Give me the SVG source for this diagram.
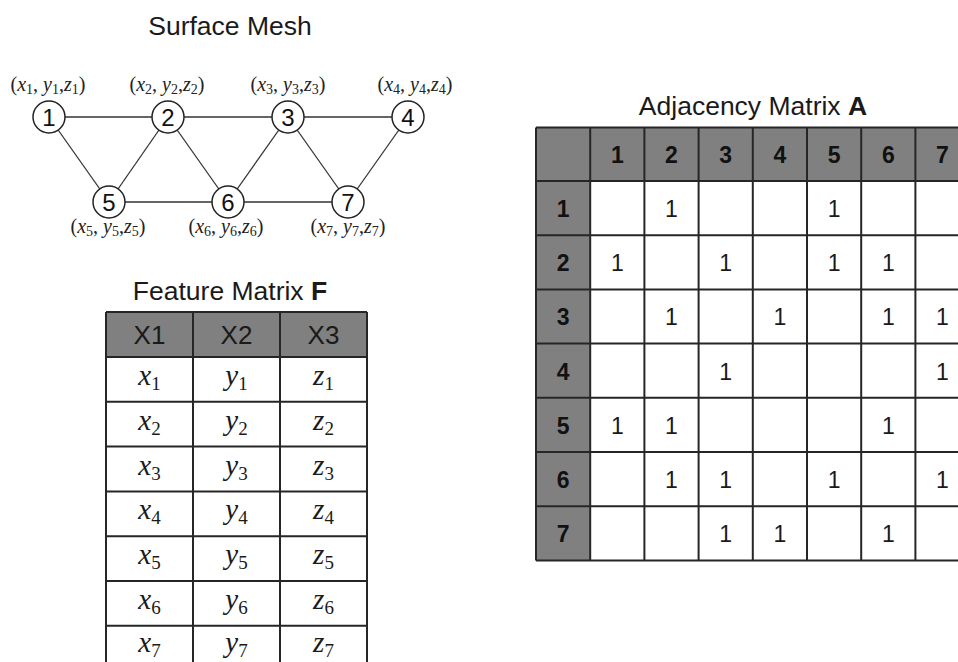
<svg xmlns="http://www.w3.org/2000/svg" width="958" height="662" viewBox="0 0 958 662">
  <style>
    .title { font-family: "Liberation Sans", Arial, sans-serif; font-size: 26.5px; fill: #1a1a1a; }
    .b { font-weight: bold; }
    .node circle { fill: #ffffff; stroke: #222222; stroke-width: 1.5; }
    .node .num { font-family: "Liberation Sans", Arial, sans-serif; font-size: 24px; fill: #111111; text-anchor: middle; }
    .edge { stroke: #333333; stroke-width: 1.3; fill: none; }
    .node .lbl { font-family: "Liberation Serif", "Times New Roman", serif; font-size: 20px; fill: #222222; text-anchor: middle; }
    .v { font-style: italic; }
    .s { font-size: 14px; }
    .hdr { fill: #808080; }
    .grid { stroke: #262626; stroke-width: 2; fill: none; }
    .fh { font-family: "Liberation Sans", Arial, sans-serif; font-size: 26px; fill: #1a1a1a; text-anchor: middle; }
    .fc { font-family: "Liberation Serif", "Times New Roman", serif; font-size: 29px; fill: #1a1a1a; text-anchor: middle; }
    .fs { font-size: 19px; }
    .ah { font-family: "Liberation Sans", Arial, sans-serif; font-size: 23px; font-weight: bold; fill: #111111; text-anchor: middle; }
    .ac { font-family: "Liberation Sans", Arial, sans-serif; font-size: 23px; fill: #1a1a1a; text-anchor: middle; }
  </style>
  <rect width="958" height="662" fill="#ffffff"/>

  <!-- Surface mesh -->
  <text class="title" x="230" y="35" text-anchor="middle">Surface Mesh</text>

  <g id="connectors">
    <line class="edge" x1="49" y1="117" x2="168" y2="117"/>
    <line class="edge" x1="168" y1="117" x2="288" y2="117"/>
    <line class="edge" x1="288" y1="117" x2="408" y2="117"/>
    <line class="edge" x1="109" y1="202" x2="228" y2="202"/>
    <line class="edge" x1="228" y1="202" x2="348" y2="202"/>
    <line class="edge" x1="49" y1="117" x2="109" y2="202"/>
    <line class="edge" x1="109" y1="202" x2="168" y2="117"/>
    <line class="edge" x1="168" y1="117" x2="228" y2="202"/>
    <line class="edge" x1="228" y1="202" x2="288" y2="117"/>
    <line class="edge" x1="288" y1="117" x2="348" y2="202"/>
    <line class="edge" x1="348" y1="202" x2="408" y2="117"/>
  </g>

  <g id="node1" class="node">
    <circle cx="49" cy="117" r="16"/>
    <text class="num" x="49" y="125.5">1</text>
    <text class="lbl" x="48" y="91">(<tspan class="v">x</tspan><tspan class="s" dy="3">1</tspan><tspan dy="-3">, </tspan><tspan class="v">y</tspan><tspan class="s" dy="3">1</tspan><tspan dy="-3">,</tspan><tspan class="v">z</tspan><tspan class="s" dy="3">1</tspan><tspan dy="-3">)</tspan></text>
  </g>
  <g id="node2" class="node">
    <circle cx="168" cy="117" r="16"/>
    <text class="num" x="168" y="125.5">2</text>
    <text class="lbl" x="167" y="91">(<tspan class="v">x</tspan><tspan class="s" dy="3">2</tspan><tspan dy="-3">, </tspan><tspan class="v">y</tspan><tspan class="s" dy="3">2</tspan><tspan dy="-3">,</tspan><tspan class="v">z</tspan><tspan class="s" dy="3">2</tspan><tspan dy="-3">)</tspan></text>
  </g>
  <g id="node3" class="node">
    <circle cx="288" cy="117" r="16"/>
    <text class="num" x="288" y="125.5">3</text>
    <text class="lbl" x="288" y="91">(<tspan class="v">x</tspan><tspan class="s" dy="3">3</tspan><tspan dy="-3">, </tspan><tspan class="v">y</tspan><tspan class="s" dy="3">3</tspan><tspan dy="-3">,</tspan><tspan class="v">z</tspan><tspan class="s" dy="3">3</tspan><tspan dy="-3">)</tspan></text>
  </g>
  <g id="node4" class="node">
    <circle cx="408" cy="117" r="16"/>
    <text class="num" x="408" y="125.5">4</text>
    <text class="lbl" x="415" y="91">(<tspan class="v">x</tspan><tspan class="s" dy="3">4</tspan><tspan dy="-3">, </tspan><tspan class="v">y</tspan><tspan class="s" dy="3">4</tspan><tspan dy="-3">,</tspan><tspan class="v">z</tspan><tspan class="s" dy="3">4</tspan><tspan dy="-3">)</tspan></text>
  </g>
  <g id="node5" class="node">
    <circle cx="109" cy="202" r="16"/>
    <text class="num" x="109" y="210.5">5</text>
    <text class="lbl" x="108" y="233">(<tspan class="v">x</tspan><tspan class="s" dy="3">5</tspan><tspan dy="-3">, </tspan><tspan class="v">y</tspan><tspan class="s" dy="3">5</tspan><tspan dy="-3">,</tspan><tspan class="v">z</tspan><tspan class="s" dy="3">5</tspan><tspan dy="-3">)</tspan></text>
  </g>
  <g id="node6" class="node">
    <circle cx="228" cy="202" r="16"/>
    <text class="num" x="228" y="210.5">6</text>
    <text class="lbl" x="226" y="233">(<tspan class="v">x</tspan><tspan class="s" dy="3">6</tspan><tspan dy="-3">, </tspan><tspan class="v">y</tspan><tspan class="s" dy="3">6</tspan><tspan dy="-3">,</tspan><tspan class="v">z</tspan><tspan class="s" dy="3">6</tspan><tspan dy="-3">)</tspan></text>
  </g>
  <g id="node7" class="node">
    <circle cx="348" cy="202" r="16"/>
    <text class="num" x="348" y="210.5">7</text>
    <text class="lbl" x="348" y="233">(<tspan class="v">x</tspan><tspan class="s" dy="3">7</tspan><tspan dy="-3">, </tspan><tspan class="v">y</tspan><tspan class="s" dy="3">7</tspan><tspan dy="-3">,</tspan><tspan class="v">z</tspan><tspan class="s" dy="3">7</tspan><tspan dy="-3">)</tspan></text>
  </g>

  <!-- Feature matrix F -->
  <g id="feature-matrix">
    <text class="title" x="230" y="300" text-anchor="middle">Feature Matrix <tspan class="b">F</tspan></text>
    <rect class="hdr" x="106" y="312" width="261" height="45"/>
    <path class="grid" d="M106 312 H367 M106 357 H367 M106 401.8 H367 M106 446.6 H367 M106 491.4 H367 M106 536.2 H367 M106 581 H367 M106 625.8 H367 M106 312 V670 M193 312 V670 M280 312 V670 M367 312 V670"/>
    <text class="fh" x="149.5" y="344">X1</text>
    <text class="fh" x="236.5" y="344">X2</text>
    <text class="fh" x="323.5" y="344">X3</text>

    <text class="fc" x="149.5" y="385"><tspan class="v">x</tspan><tspan class="fs" dy="5">1</tspan></text>
    <text class="fc" x="236.5" y="385"><tspan class="v">y</tspan><tspan class="fs" dy="5">1</tspan></text>
    <text class="fc" x="323.5" y="385"><tspan class="v">z</tspan><tspan class="fs" dy="5">1</tspan></text>

    <text class="fc" x="149.5" y="429.8"><tspan class="v">x</tspan><tspan class="fs" dy="5">2</tspan></text>
    <text class="fc" x="236.5" y="429.8"><tspan class="v">y</tspan><tspan class="fs" dy="5">2</tspan></text>
    <text class="fc" x="323.5" y="429.8"><tspan class="v">z</tspan><tspan class="fs" dy="5">2</tspan></text>

    <text class="fc" x="149.5" y="474.6"><tspan class="v">x</tspan><tspan class="fs" dy="5">3</tspan></text>
    <text class="fc" x="236.5" y="474.6"><tspan class="v">y</tspan><tspan class="fs" dy="5">3</tspan></text>
    <text class="fc" x="323.5" y="474.6"><tspan class="v">z</tspan><tspan class="fs" dy="5">3</tspan></text>

    <text class="fc" x="149.5" y="519.4"><tspan class="v">x</tspan><tspan class="fs" dy="5">4</tspan></text>
    <text class="fc" x="236.5" y="519.4"><tspan class="v">y</tspan><tspan class="fs" dy="5">4</tspan></text>
    <text class="fc" x="323.5" y="519.4"><tspan class="v">z</tspan><tspan class="fs" dy="5">4</tspan></text>

    <text class="fc" x="149.5" y="564.2"><tspan class="v">x</tspan><tspan class="fs" dy="5">5</tspan></text>
    <text class="fc" x="236.5" y="564.2"><tspan class="v">y</tspan><tspan class="fs" dy="5">5</tspan></text>
    <text class="fc" x="323.5" y="564.2"><tspan class="v">z</tspan><tspan class="fs" dy="5">5</tspan></text>

    <text class="fc" x="149.5" y="609"><tspan class="v">x</tspan><tspan class="fs" dy="5">6</tspan></text>
    <text class="fc" x="236.5" y="609"><tspan class="v">y</tspan><tspan class="fs" dy="5">6</tspan></text>
    <text class="fc" x="323.5" y="609"><tspan class="v">z</tspan><tspan class="fs" dy="5">6</tspan></text>

    <text class="fc" x="149.5" y="652"><tspan class="v">x</tspan><tspan class="fs" dy="5">7</tspan></text>
    <text class="fc" x="236.5" y="652"><tspan class="v">y</tspan><tspan class="fs" dy="5">7</tspan></text>
    <text class="fc" x="323.5" y="652"><tspan class="v">z</tspan><tspan class="fs" dy="5">7</tspan></text>
  </g>

  <!-- Adjacency matrix A -->
  <g id="adjacency-matrix">
    <text class="title" x="753" y="115" text-anchor="middle">Adjacency Matrix <tspan class="b">A</tspan></text>
    <rect class="hdr" x="536" y="127.5" width="440" height="53.5"/>
    <rect class="hdr" x="536" y="127.5" width="54.2" height="432.9"/>
    <path class="grid" d="M536 127.5 H976 M536 181 H976 M536 235.2 H976 M536 289.4 H976 M536 343.6 H976 M536 397.8 H976 M536 452 H976 M536 506.2 H976 M536 560.4 H976
      M536 127.5 V560.4 M590.2 127.5 V560.4 M644.4 127.5 V560.4 M698.6 127.5 V560.4 M752.8 127.5 V560.4 M807 127.5 V560.4 M861.2 127.5 V560.4 M915.4 127.5 V560.4"/>

    <!-- column headers -->
    <text class="ah" x="617.3" y="162.5">1</text>
    <text class="ah" x="671.5" y="162.5">2</text>
    <text class="ah" x="725.7" y="162.5">3</text>
    <text class="ah" x="779.9" y="162.5">4</text>
    <text class="ah" x="834.1" y="162.5">5</text>
    <text class="ah" x="888.3" y="162.5">6</text>
    <text class="ah" x="942.5" y="162.5">7</text>

    <!-- row headers -->
    <text class="ah" x="563.1" y="217">1</text>
    <text class="ah" x="563.1" y="271.2">2</text>
    <text class="ah" x="563.1" y="325.4">3</text>
    <text class="ah" x="563.1" y="379.6">4</text>
    <text class="ah" x="563.1" y="433.8">5</text>
    <text class="ah" x="563.1" y="488">6</text>
    <text class="ah" x="563.1" y="542.2">7</text>

    <!-- row 1 -->
    <text class="ac" x="671.5" y="217">1</text>
    <text class="ac" x="834.1" y="217">1</text>
    <!-- row 2 -->
    <text class="ac" x="617.3" y="271.2">1</text>
    <text class="ac" x="725.7" y="271.2">1</text>
    <text class="ac" x="834.1" y="271.2">1</text>
    <text class="ac" x="888.3" y="271.2">1</text>
    <!-- row 3 -->
    <text class="ac" x="671.5" y="325.4">1</text>
    <text class="ac" x="779.9" y="325.4">1</text>
    <text class="ac" x="888.3" y="325.4">1</text>
    <text class="ac" x="942.5" y="325.4">1</text>
    <!-- row 4 -->
    <text class="ac" x="725.7" y="379.6">1</text>
    <text class="ac" x="942.5" y="379.6">1</text>
    <!-- row 5 -->
    <text class="ac" x="617.3" y="433.8">1</text>
    <text class="ac" x="671.5" y="433.8">1</text>
    <text class="ac" x="888.3" y="433.8">1</text>
    <!-- row 6 -->
    <text class="ac" x="671.5" y="488">1</text>
    <text class="ac" x="725.7" y="488">1</text>
    <text class="ac" x="834.1" y="488">1</text>
    <text class="ac" x="942.5" y="488">1</text>
    <!-- row 7 -->
    <text class="ac" x="725.7" y="542.2">1</text>
    <text class="ac" x="779.9" y="542.2">1</text>
    <text class="ac" x="888.3" y="542.2">1</text>
  </g>
</svg>
